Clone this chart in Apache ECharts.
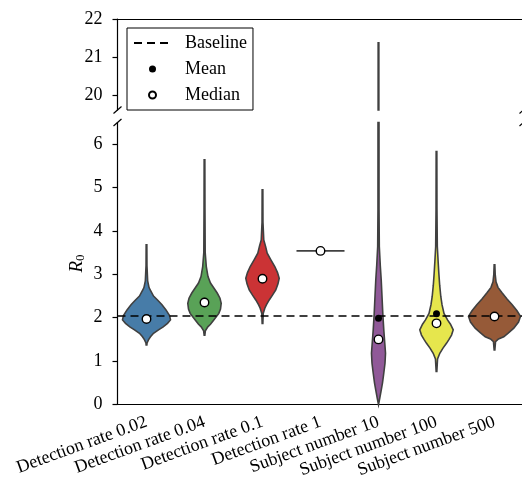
<!DOCTYPE html>
<html><head><meta charset="utf-8">
<script src="https://cdn.jsdelivr.net/npm/echarts@6/dist/echarts.min.js"></script>
<style>html,body{margin:0;padding:0;background:#fff}#c{width:522px;height:481px}</style>
</head><body><div id="c"></div>
<script>
// ---- data ----
var categories = ['Detection rate 0.02','Detection rate 0.04','Detection rate 0.1','Detection rate 1','Subject number 10','Subject number 100','Subject number 500'];
var colors = ['#477ca8','#59a257','#cb3335','#444444','#905998','#e6e64d','#965a38'];
// violin profiles: [R0 value, half-width as fraction of category band]
var violinDet002 = [[3.68,0.006],[3.2,0.008],[2.85,0.02],[2.7,0.043],[2.64,0.064],[2.5,0.121],[2.41,0.19],[2.3,0.267],[2.18,0.336],[2.05,0.397],[1.95,0.414],[1.87,0.362],[1.79,0.288],[1.72,0.207],[1.64,0.121],[1.56,0.069],[1.49,0.034],[1.42,0.01],[1.37,0.006]];
var violinDet004 = [[5.64,0.006],[4.5,0.008],[3.5,0.012],[3.18,0.031],[2.95,0.06],[2.80,0.103],[2.68,0.164],[2.57,0.219],[2.45,0.267],[2.33,0.288],[2.20,0.276],[2.10,0.247],[1.95,0.16],[1.85,0.103],[1.79,0.057],[1.70,0.015],[1.60,0.006]];
var violinDet01 = [[4.95,0.006],[4.2,0.008],[3.79,0.022],[3.65,0.052],[3.49,0.081],[3.33,0.147],[3.18,0.212],[3.04,0.259],[2.91,0.288],[2.78,0.267],[2.64,0.229],[2.52,0.172],[2.41,0.116],[2.30,0.069],[2.22,0.04],[2.1,0.012],[1.87,0.006]];
var violinDet1 = [[3.54,0.414]];
var violinSub10 = [[21.37,0.006],[10,0.008],[4.5,0.009],[3.64,0.014],[3.2,0.031],[2.87,0.047],[2.5,0.06],[2.10,0.074],[1.72,0.091],[1.4,0.109],[1.18,0.121],[0.95,0.112],[0.72,0.091],[0.5,0.069],[0.33,0.047],[0.15,0.022],[0,0]];
var violinSub100 = [[5.83,0.006],[4.5,0.008],[3.64,0.014],[3.3,0.028],[3.03,0.04],[2.75,0.055],[2.49,0.074],[2.30,0.095],[2.10,0.129],[1.95,0.19],[1.85,0.241],[1.72,0.288],[1.60,0.259],[1.50,0.216],[1.41,0.172],[1.30,0.112],[1.18,0.057],[1.05,0.018],[0.76,0.006]];
var violinSub500 = [[3.22,0.006],[3.0,0.012],[2.83,0.026],[2.70,0.06],[2.57,0.133],[2.43,0.216],[2.30,0.305],[2.16,0.388],[2.03,0.448],[1.90,0.414],[1.76,0.333],[1.65,0.241],[1.56,0.16],[1.51,0.069],[1.45,0.018],[1.26,0.006]];
var means = [1.97, 2.38, 2.90, 3.54, 1.99, 2.09, 2.02];
var medians = [1.97, 2.35, 2.90, 3.54, 1.50, 1.87, 2.03];
var baseline = 2.05;
var yTicksTop = [20, 21, 22];
var yTicksBottom = [0, 1, 2, 3, 4, 5, 6];

var profiles = [violinDet002, violinDet004, violinDet01, violinDet1, violinSub10, violinSub100, violinSub500];

function sliceProfile(prof, lo, hi) {
  var out = [];
  for (var k = 0; k < prof.length; k++) {
    var v = prof[k][0], w = prof[k][1];
    if (k > 0) {
      var pv = prof[k-1][0], pw = prof[k-1][1];
      [hi, lo].forEach(function (b) {
        if ((pv - b) * (v - b) < 0) {
          var t = (b - pv) / (v - pv);
          out.push([b, pw + (w - pw) * t]);
        }
      });
    }
    if (v >= lo && v <= hi) out.push([v, w]);
  }
  return out;
}

function violinRender(lo, hi) {
  return function (params, api) {
    var i = params.dataIndex;
    var pts = sliceProfile(profiles[i], lo, hi);
    if (!pts.length) return null;
    var band = api.size([1, 0])[0];
    var cx = api.coord([i, lo])[0];
    var style = { fill: colors[i], stroke: '#404040', lineWidth: 1.6 };
    if (pts.length === 1) {
      var y = api.coord([i, pts[0][0]])[1];
      var hw = pts[0][1] * band;
      return { type: 'line', shape: { x1: cx - hw, y1: y, x2: cx + hw, y2: y }, style: { stroke: '#404040', lineWidth: 1.8 } };
    }
    var right = pts.map(function (p) { return [cx + p[1] * band, api.coord([i, p[0]])[1]]; });
    var left = pts.slice().reverse().map(function (p) { return [cx - p[1] * band, api.coord([i, p[0]])[1]]; });
    return { type: 'polygon', shape: { points: right.concat(left), smooth: 0 }, style: style };
  };
}

var font = 'Liberation Serif';
var axisLineStyle = { color: '#000', width: 1.2 };
var chart = echarts.init(document.getElementById('c'));
var idxData = categories.map(function (c, i) { return [i]; });

chart.setOption({
  animation: false,
  backgroundColor: '#fff',
  grid: [
    { left: 117.5, top: 19, width: 406, height: 91, outerBoundsMode: 'none', containLabel: false },
    { left: 117.5, top: 122.5, width: 406, height: 282, outerBoundsMode: 'none', containLabel: false }
  ],
  xAxis: [
    { gridIndex: 0, type: 'category', data: categories, position: 'top',
      axisLine: { lineStyle: axisLineStyle }, axisTick: { show: false }, axisLabel: { show: false }, splitLine: { show: false } },
    { gridIndex: 1, type: 'category', data: categories, position: 'bottom',
      axisLine: { lineStyle: axisLineStyle },
      axisTick: { alignWithLabel: true, length: 6, lineStyle: axisLineStyle },
      axisLabel: { interval: 0, rotate: 20, fontSize: 18, fontFamily: font, color: '#000', margin: 17 },
      splitLine: { show: false } }
  ],
  yAxis: [
    { gridIndex: 0, type: 'value', min: 19.6, max: 22,
      axisLine: { show: true, lineStyle: axisLineStyle },
      axisTick: { show: true, length: 5, lineStyle: axisLineStyle, customValues: yTicksTop },
      axisLabel: { fontSize: 18, fontFamily: font, color: '#000', margin: 15, customValues: yTicksTop },
      splitLine: { show: false } },
    { gridIndex: 1, type: 'value', min: 0, max: 6.5,
      axisLine: { show: true, lineStyle: axisLineStyle },
      axisTick: { show: true, length: 5, lineStyle: axisLineStyle, customValues: yTicksBottom },
      axisLabel: { fontSize: 18, fontFamily: font, color: '#000', margin: 15, customValues: yTicksBottom },
      splitLine: { show: false },
      name: '{i|R}{s|0}', nameLocation: 'middle', nameGap: 30, nameRotate: 90, nameMoveOverlap: false,
      nameTextStyle: { color: '#000', rich: {
        i: { fontStyle: 'italic', fontSize: 19, fontFamily: font, color: '#000' },
        s: { fontSize: 13, fontFamily: font, color: '#000', padding: [8, 0, 0, 0] } } } }
  ],
  legend: {
    data: [{ name: 'Baseline', itemStyle: { opacity: 0 } }, 'Mean', 'Median'], orient: 'vertical', left: 127, top: 28,
    itemWidth: 37, itemHeight: 7, itemGap: 8, padding: [6, 6, 6, 6],
    borderColor: '#000', borderWidth: 1, borderRadius: 0, backgroundColor: '#fff',
    textStyle: { fontSize: 18, fontFamily: font, color: '#000', padding: [0, 0, 0, 9] }
  },
  series: [
    { type: 'custom', name: 'violinTop', xAxisIndex: 0, yAxisIndex: 0, renderItem: violinRender(19.6, 22), data: idxData, silent: true },
    { type: 'custom', name: 'violinBottom', xAxisIndex: 1, yAxisIndex: 1, renderItem: violinRender(0, 6.5), data: idxData, silent: true },
    { type: 'line', name: 'Baseline', xAxisIndex: 1, yAxisIndex: 1, data: [], symbol: 'none',
      lineStyle: { color: '#000', type: [8, 5], width: 1.7 }, itemStyle: { color: '#000' },
      markLine: { symbol: 'none', silent: true, label: { show: false },
        lineStyle: { color: '#000', type: [8, 5], width: 1.7 }, data: [{ yAxis: baseline }] }, z: 3 },
    { type: 'scatter', name: 'Mean', xAxisIndex: 1, yAxisIndex: 1, symbol: 'circle', symbolSize: 7,
      itemStyle: { color: '#000', opacity: 1 }, data: means.map(function (m, i) { return [i, m]; }), z: 4 },
    { type: 'scatter', name: 'Median', xAxisIndex: 1, yAxisIndex: 1, symbol: 'circle', symbolSize: 8.5,
      itemStyle: { color: '#fff', borderColor: '#000', borderWidth: 1.4, opacity: 1 }, data: medians.map(function (m, i) { return [i, m]; }), z: 5 }
  ]
});

// axis break marks at the spine ends
var topBottomY = 19 + 91, bottomTopY = 122.5, leftX = 117.5, rightX = 117.5 + 406;
var marks = [];
[leftX, rightX].forEach(function (x) {
  [topBottomY, bottomTopY].forEach(function (y) {
    marks.push({ type: 'line', shape: { x1: x - 4, y1: y + 3.5, x2: x + 4, y2: y - 3.5 }, style: { stroke: '#000', lineWidth: 1.2 }, z: 100 });
  });
});
chart.setOption({ graphic: marks });
</script></body></html>
